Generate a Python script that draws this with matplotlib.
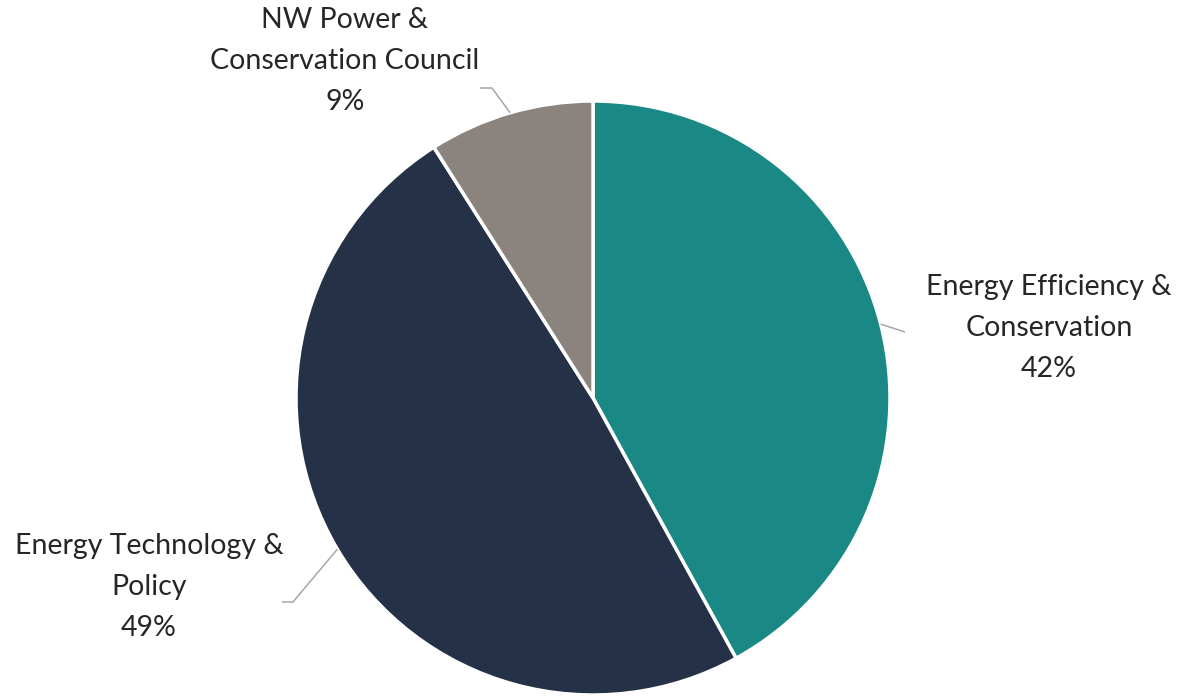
import numpy as np
import matplotlib
matplotlib.use("Agg")
import matplotlib.pyplot as plt

categories = ["Energy Efficiency &\nConservation", "Energy Technology &\nPolicy", "NW Power &\nConservation Council"]
values = [42, 49, 9]
colors = ["#1a8985", "#243147", "#8b837d"]

W, H = 1180, 697
fig = plt.figure(figsize=(W / 100, H / 100), dpi=100)
ax = fig.add_axes([0, 0, 1, 1])
ax.set_xlim(0, W)
ax.set_ylim(0, H)
ax.set_aspect("equal")
ax.axis("off")

cx, cy, r = 593, H - 398, 297
wedges, _ = ax.pie(values, colors=colors, startangle=90, counterclock=False,
                   center=(cx, cy), radius=r, frame=True,
                   wedgeprops=dict(edgecolor="white", linewidth=2.5))
ax.set_xlim(0, W)
ax.set_ylim(0, H)
ax.axis("off")

# label placement (pixel coords, y from top) and leader elbow
label_pos = [(1049, 328), (149, 587), (345, 61)]
elbows = [[(905, 332)], [(293, 602), (282, 602)], [(492, 88), (480, 88)]]

for w, lab, v, (lx, ly), elb in zip(wedges, categories, values, label_pos, elbows):
    mid = np.deg2rad((w.theta1 + w.theta2) / 2)
    sx, sy = cx + r * np.cos(mid), cy + r * np.sin(mid)
    xs = [sx] + [p[0] for p in elb]
    ys = [sy] + [H - p[1] for p in elb]
    ax.plot(xs, ys, color="#a6a6a6", lw=1.1, solid_capstyle="butt")
    ax.text(lx, H - ly, f"{lab}\n{v}%", ha="center", va="center",
            fontsize=20.5, family=["Lato", "DejaVu Sans"], color="#262626",
            linespacing=1.72)

fig.savefig("out.png", dpi=100, facecolor="white")
